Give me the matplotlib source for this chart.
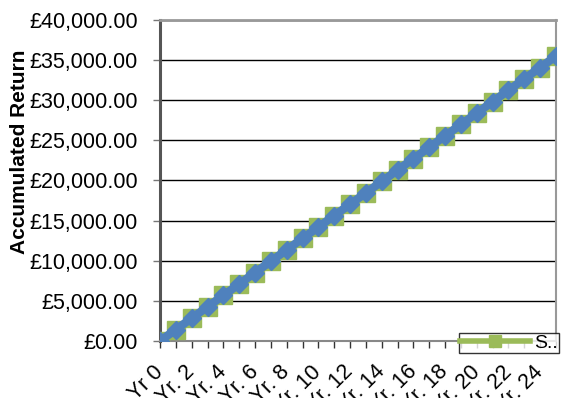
import matplotlib.pyplot as plt
from matplotlib.ticker import FuncFormatter, MultipleLocator

plt.rcParams['font.family'] = ['Liberation Sans', 'DejaVu Sans']

# ---- Data ----
years = ['Yr 0'] + [f'Yr. {i}' for i in range(1, 26)]
savings = [0, 1420, 2840, 4260, 5680, 7100, 8520, 9940, 11360, 12780,
           14200, 15620, 17040, 18460, 19880, 21300, 22720, 24140, 25560,
           26980, 28400, 29820, 31240, 32660, 34080, 35500]
returns = [0, 1420, 2840, 4260, 5680, 7100, 8520, 9940, 11360, 12780,
           14200, 15620, 17040, 18460, 19880, 21300, 22720, 24140, 25560,
           26980, 28400, 29820, 31240, 32660, 34080, 35500]

GREEN = '#9bbb59'
BLUE = '#4f81bd'

fig = plt.figure(figsize=(5.61, 3.98), dpi=100)
ax = fig.add_axes([160 / 561, 57 / 398, 396 / 561, 321 / 398])

x = list(range(len(years)))
green_line, = ax.plot(x, savings, color=GREEN, lw=4, marker='s', ms=13,
                      mec=GREEN, mfc=GREEN, zorder=3, label='S..')
ax.plot(x, returns, color=BLUE, lw=6, marker='D', ms=9,
        mec=BLUE, mfc=BLUE, zorder=4)

ax.set_xlim(0, len(years) - 1)
ax.set_ylim(0, 40000)
ax.yaxis.set_major_locator(MultipleLocator(5000))
ax.yaxis.set_major_formatter(FuncFormatter(lambda v, _: f'£{v:,.2f}'))
ax.grid(axis='y', color='black', lw=1)
ax.set_axisbelow(True)

ax.set_xticks(x)
ax.set_xticklabels([lbl if i % 2 == 0 else '' for i, lbl in enumerate(years)],
                   rotation=45, ha='right', va='center',
                   rotation_mode='anchor')
ax.tick_params(axis='x', length=5, width=1, color='#333333', labelsize=15.5,
               pad=15)
ax.tick_params(axis='y', length=5, width=1, color='#777777', labelsize=15.5,
               pad=11)

for side, col, lw in [('left', '#555555', 2.2), ('top', '#999999', 2),
                      ('right', '#999999', 1.5), ('bottom', '#888888', 1.5)]:
    ax.spines[side].set_color(col)
    ax.spines[side].set_linewidth(lw)

# y label sits above the axis centre
ax.set_ylabel('Accumulated Return', fontsize=15, fontweight='bold')
ax.yaxis.set_label_coords(-0.33, 0.59)

leg = fig.legend(handles=[green_line], loc='upper left',
                 bbox_to_anchor=(459 / 561, 1 - 333 / 398),
                 fontsize=14, frameon=True, fancybox=False, borderpad=0.05,
                 handlelength=3.6, handletextpad=0.2, borderaxespad=0)
leg.get_frame().set_edgecolor('black')
leg.get_frame().set_linewidth(1)
for h in leg.legend_handles:
    h.set_markersize(9)

fig.savefig('out.png', dpi=100)
